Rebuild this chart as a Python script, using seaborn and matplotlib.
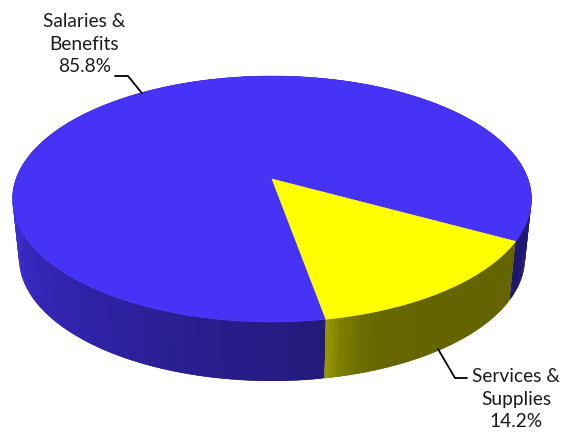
import numpy as np
import matplotlib
matplotlib.use("Agg")
import matplotlib.pyplot as plt
from matplotlib.patches import Polygon
import seaborn as sns

# Budget split
categories = ["Salaries &\nBenefits", "Services &\nSupplies"]
shares = [85.8, 14.2]
face_colors = ["#4733F6", "#FFFF00"]

# Layout of the tilted disc, in figure pixels
CENTER_X, TOP_Y, BOTTOM_Y = 272.0, 179.0, 238.0
RADIUS_X, RADIUS_Y, TILT = 256.0, 119.7, -0.1626
BOTTOM_SCALE_X = 0.975
SERVICES_START = 28.7  # degrees clockwise from the right-hand side

# Rim brightness by angle for each slice
rim_angles = [
    [79.8, 100, 130, 160, 180, 200, 388.7],
    [28.7, 68, 73, 77, 79.8],
]
rim_levels = [
    [0.50, 0.56, 0.68, 0.80, 0.87, 0.87, 0.45],
    [0.39, 0.40, 0.43, 0.50, 0.60],
]

sns.set_theme(style="white")
plt.rcParams["font.family"] = ["Lato", "DejaVu Sans"]
palette = sns.color_palette(face_colors)


def project(theta_deg, base_y, scale_x=1.0):
    """Perspective projection of a point on the unit circle's plane."""
    t = np.radians(theta_deg)
    u, v = np.cos(t), np.sin(t)
    w = 1 + TILT * v
    return CENTER_X + scale_x * RADIUS_X * u / w, base_y + RADIUS_Y * v / w


fig = plt.figure(figsize=(5.72, 4.34), dpi=100)
ax = fig.add_axes([0, 0, 1, 1])
ax.set_xlim(0, 572)
ax.set_ylim(434, 0)
ax.axis("off")
sns.despine(ax=ax, left=True, bottom=True)

sweeps = [s / 100 * 360 for s in shares]
services_end = SERVICES_START + sweeps[1]
slices = [
    (services_end, services_end + sweeps[0]),
    (SERVICES_START, services_end),
]

# Side wall: narrow bands, each shaded on its own and reaching slightly
# under the next one so no seams show between neighbours
for i, (start, end) in enumerate(slices):
    edges = np.linspace(start, end, int((end - start) / 0.6) + 2)
    for a, b in zip(edges[:-1], edges[1:]):
        mid = (a + b) / 2
        level = np.interp(mid, rim_angles[i], rim_levels[i])
        shade = tuple(c * level for c in palette[i])
        arc = np.array([a, (a + min(b + 0.8, end)) / 2, min(b + 0.8, end)])
        xt, yt = project(arc, TOP_Y)
        xb, yb = project(arc[::-1], BOTTOM_Y, BOTTOM_SCALE_X)
        ax.add_patch(Polygon(np.c_[np.r_[xt, xb], np.r_[yt, yb]],
                             facecolor=shade, edgecolor="none"))

# Top face
for i, (start, end) in enumerate(slices):
    arc = np.linspace(start, end, 400)
    x, y = project(arc, TOP_Y)
    pts = np.c_[np.r_[CENTER_X, x], np.r_[TOP_Y, y]]
    ax.add_patch(Polygon(pts, facecolor=palette[i], edgecolor=palette[i],
                         linewidth=0.4, zorder=3))

# Leader lines start from each slice's mid-angle on the rim
mid_salaries = sum(slices[0]) / 2
mid_services = sum(slices[1]) / 2
x0, y0 = project(mid_salaries, TOP_Y)
ax.plot([x0 + 2, 128, 115], [y0, 76, 76], color="black", lw=1.3,
        solid_joinstyle="round", zorder=4)
x1, y1 = project(mid_services, BOTTOM_Y, BOTTOM_SCALE_X)
ax.plot([x1 - 2, 455, 467], [y1 - 1, 378, 378], color="black", lw=1.3,
        solid_joinstyle="round", zorder=4)

text_style = dict(fontsize=13.8, color="#1c1c1c", ha="center", va="center",
                  linespacing=1.42, zorder=5)
ax.text(84.5, 44, f"{categories[0]}\n{shares[0]}%", **text_style)
ax.text(516, 399, f"{categories[1]}\n{shares[1]}%", **text_style)

fig.savefig("out.png", dpi=100, facecolor="white")
